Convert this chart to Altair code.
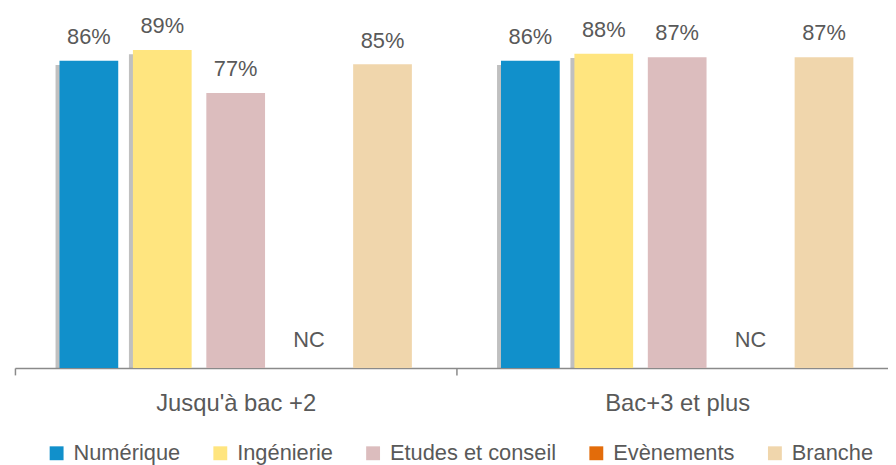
import altair as alt
import pandas as pd

groups = ["Jusqu'à bac +2", "Bac+3 et plus"]
series = ["Numérique", "Ingénierie", "Etudes et conseil", "Evènements", "Branche"]
colors = ["#1190CB", "#FFE57F", "#DCBDBE", "#E36C0A", "#F0D6AC"]
values_bac2 = [86, 89, 77, None, 85]
values_bac3 = [86, 88, 87, None, 87]
shadowed = ["Numérique", "Ingénierie"]

rows = []
for g, vals in zip(groups, [values_bac2, values_bac3]):
    for s, v in zip(series, vals):
        rows.append({"group": g, "series": s, "value": v,
                     "label": "NC" if v is None else f"{v}%"})
df = pd.DataFrame(rows)

FONT = "Liberation Sans"
TXT = "#595959"

x_enc = alt.X("group:N", sort=groups,
              scale=alt.Scale(paddingInner=0, paddingOuter=0, range=[0, 890]),
              axis=alt.Axis(title=None, labelFont=FONT, labelFontSize=24, labelColor=TXT,
                            labelPadding=17, tickSize=7, tickBand="extent",
                            domainColor="#8A8A8A", domainWidth=1.5,
                            tickColor="#8A8A8A", tickWidth=1.5, labelAngle=0))
xo_enc = alt.XOffset("series:N", sort=series,
                     scale=alt.Scale(domain=series, paddingInner=0.2, paddingOuter=0.607))
xo_shadow = alt.XOffset("series:N", sort=series,
                        scale=alt.Scale(domain=series, paddingInner=0.2, paddingOuter=0.607,
                                        range=[-4, 441]))
y_scale = alt.Scale(domain=[0, 100])

shadow = alt.Chart(df).encode(x=x_enc, xOffset=xo_shadow).transform_filter(
    alt.FieldOneOfPredicate(field="series", oneOf=shadowed)
).transform_filter("datum.value != null").transform_calculate(
    top="datum.value - 1.2"
).mark_bar(color="#8c8c8c", opacity=0.55).encode(
    y=alt.Y("top:Q", scale=y_scale, axis=None),
)

base = alt.Chart(df).encode(x=x_enc, xOffset=xo_enc)

bars = base.transform_filter("datum.value != null").mark_bar().encode(
    y=alt.Y("value:Q", scale=y_scale, axis=None),
    color=alt.Color("series:N", sort=series,
                    scale=alt.Scale(domain=series, range=colors),
                    legend=alt.Legend(title=None, orient="none", direction="horizontal",
                                      legendX=31, legendY=435, symbolType="square",
                                      symbolSize=196, symbolStrokeWidth=0,
                                      labelFont=FONT, labelFontSize=22, labelColor=TXT,
                                      labelOffset=6, columnPadding=29, padding=0,
                                      labelLimit=400)),
)

labels = base.transform_filter("datum.value != null").mark_text(
    font=FONT, fontSize=22, color=TXT, baseline="alphabetic", dy=-17
).encode(y=alt.Y("value:Q", scale=y_scale), text="label:N")

nc = base.transform_filter("datum.value == null").mark_text(
    font=FONT, fontSize=22, color=TXT, baseline="alphabetic"
).encode(y=alt.value(339), text="label:N")

main = alt.layer(bars, labels, nc)

chart = alt.layer(shadow, main).resolve_scale(xOffset="independent").properties(
    width=880, height=360,
    autosize=alt.AutoSizeParams(type="none"),
    padding={"left": 7, "right": 0, "top": 1, "bottom": 96},
).configure_view(stroke=None)

chart.save("out.html", embed_options={"renderer": "svg", "actions": False})
